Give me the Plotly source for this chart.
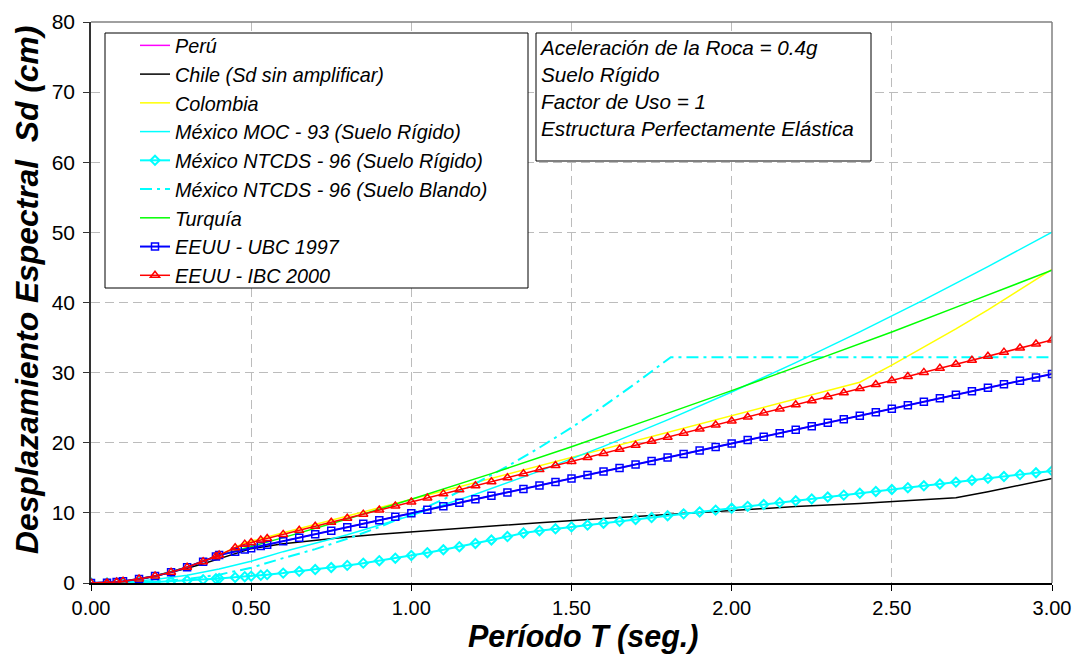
import plotly.graph_objects as go

# ---------------- data ----------------
t_grid = [0, 0.05, 0.08, 0.1, 0.15, 0.2, 0.25, 0.3, 0.35, 0.39, 0.4, 0.45, 0.48, 0.5, 0.53, 0.55,
          0.6, 0.65, 0.7, 0.75, 0.8, 0.85, 0.9, 0.95, 1.0, 1.05, 1.1, 1.15, 1.2, 1.25, 1.3, 1.35,
          1.4, 1.45, 1.5, 1.55, 1.6, 1.65, 1.7, 1.75, 1.8, 1.85, 1.9, 1.95, 2.0, 2.05, 2.1, 2.15,
          2.2, 2.25, 2.3, 2.35, 2.4, 2.45, 2.5, 2.55, 2.6, 2.65, 2.7, 2.75, 2.8, 2.85, 2.9, 2.95, 3.0]

ubc_sd = [0, 0.05, 0.16, 0.25, 0.56, 0.99, 1.55, 2.24, 3.04, 3.78, 3.98, 4.47, 4.77, 4.97, 5.27, 5.47,
          5.96, 6.46, 6.96, 7.46, 7.95, 8.45, 8.95, 9.44, 9.94, 10.44, 10.93, 11.43, 11.93, 12.43, 12.92, 13.42,
          13.92, 14.41, 14.91, 15.41, 15.90, 16.40, 16.90, 17.40, 17.89, 18.39, 18.89, 19.38, 19.88, 20.38, 20.87, 21.37,
          21.87, 22.37, 22.86, 23.36, 23.86, 24.35, 24.85, 25.35, 25.84, 26.34, 26.84, 27.34, 27.83, 28.33, 28.83, 29.32, 29.82]

ibc_sd = [0, 0.04, 0.15, 0.25, 0.56, 0.99, 1.55, 2.24, 3.04, 3.78, 3.98, 5.03, 5.54, 5.78, 6.12, 6.35,
          6.93, 7.51, 8.09, 8.66, 9.24, 9.82, 10.40, 10.97, 11.55, 12.13, 12.71, 13.28, 13.86, 14.44, 15.02, 15.59,
          16.17, 16.75, 17.33, 17.90, 18.48, 19.06, 19.64, 20.21, 20.79, 21.37, 21.95, 22.52, 23.10, 23.68, 24.26, 24.83,
          25.41, 25.99, 26.57, 27.14, 27.72, 28.30, 28.88, 29.45, 30.03, 30.61, 31.19, 31.76, 32.34, 32.92, 33.50, 34.07, 34.65]

ntcds_rig_sd = [0, 0.01, 0.02, 0.04, 0.09, 0.16, 0.25, 0.35, 0.48, 0.60, 0.63, 0.79, 0.90, 0.98, 1.10, 1.19,
                1.41, 1.66, 1.92, 2.21, 2.51, 2.83, 3.18, 3.54, 3.92, 4.32, 4.74, 5.18, 5.64, 6.13, 6.62, 7.14,
                7.46, 7.73, 8.00, 8.26, 8.53, 8.79, 9.06, 9.33, 9.59, 9.86, 10.13, 10.39, 10.66, 10.93, 11.19, 11.46,
                11.73, 11.99, 12.26, 12.53, 12.79, 13.06, 13.33, 13.59, 13.86, 14.12, 14.39, 14.66, 14.92, 15.19, 15.46, 15.72, 15.99]

peru_t = [0, 0.1, 0.2, 0.3, 0.4, 0.5, 1.0, 1.5, 2.0, 2.5, 3.0]
peru_sd = [0, 0.25, 0.99, 2.24, 3.98, 4.97, 9.94, 14.91, 19.88, 24.85, 29.82]

chile_t = [0, 0.05, 0.1, 0.15, 0.2, 0.25, 0.3, 0.35, 0.4, 0.45, 0.5, 0.6, 0.7, 0.8, 0.9, 1.0,
           1.2, 1.4, 1.6, 1.8, 2.0, 2.2, 2.4, 2.6, 2.7, 2.8, 2.9, 3.0]
chile_sd = [0, 0.04, 0.2, 0.5, 0.95, 1.5, 2.1, 2.75, 3.45, 4.2, 4.9, 5.6, 6.1, 6.55, 6.95, 7.3,
            7.95, 8.6, 9.2, 9.8, 10.35, 10.9, 11.35, 11.85, 12.15, 13.0, 13.95, 14.9]

colombia_t = [0, 0.1, 0.2, 0.3, 0.4, 0.48, 0.6, 0.8, 1.0, 1.2, 1.4, 1.6, 1.8, 2.0, 2.2, 2.4,
              2.5, 2.6, 2.7, 2.8, 2.9, 3.0]
colombia_sd = [0, 0.25, 0.99, 2.24, 3.98, 5.73, 7.16, 9.54, 11.93, 14.31, 16.70, 19.08, 21.47, 23.86, 26.24, 28.63,
               31.06, 33.60, 36.23, 38.96, 41.80, 44.73]

moc_t = [0, 0.1, 0.2, 0.3, 0.4, 0.5, 0.6, 0.8, 1.0, 1.2, 1.4, 1.6, 1.8, 2.0, 2.2, 2.4, 2.6, 2.8, 3.0]
moc_sd = [0, 0.12, 0.50, 1.12, 1.99, 3.11, 4.47, 6.89, 9.63, 12.66, 15.95, 19.49, 23.26, 27.24, 31.42, 35.81,
          40.37, 45.12, 50.04]

ntcds_bl_t = [0, 0.1, 0.2, 0.3, 0.4, 0.5, 0.6, 0.7, 0.8, 0.9, 1.0, 1.1, 1.2, 1.3, 1.4, 1.5, 1.6, 1.7, 1.81,
              2.0, 2.5, 3.0]
ntcds_bl_sd = [0, 0.04, 0.2, 0.56, 1.19, 2.17, 3.55, 4.83, 6.30, 7.98, 9.85, 11.92, 14.18, 16.65, 19.31, 22.16,
               25.22, 28.47, 32.2, 32.2, 32.2, 32.2]

turquia_t = [0, 0.05, 0.1, 0.15, 0.2, 0.3, 0.4, 0.5, 0.6, 0.8, 1.0, 1.25, 1.5, 1.75, 2.0, 2.25, 2.5, 2.75, 3.0]
turquia_sd = [0, 0.04, 0.2, 0.56, 0.99, 2.24, 3.98, 5.2, 6.47, 9.13, 11.94, 15.6, 19.43, 23.4, 27.43, 31.6,
              35.8, 40.2, 44.6]

x_ticks = [0, 0.5, 1.0, 1.5, 2.0, 2.5, 3.0]
y_ticks = [0, 10, 20, 30, 40, 50, 60, 70, 80]

info_lines = ["Aceleración de la Roca = 0.4g", "Suelo Rígido", "Factor de Uso = 1",
              "Estructura Perfectamente Elástica"]

# ---------------- figure ----------------
FONT = "Arial, 'Liberation Sans', sans-serif"
fig = go.Figure()

fig.add_trace(go.Scatter(x=peru_t, y=peru_sd, name="Perú", mode="lines",
                         line=dict(color="#ff00ff", width=1.5)))
fig.add_trace(go.Scatter(x=chile_t, y=chile_sd, name="Chile (Sd sin amplificar)", mode="lines",
                         line=dict(color="#000000", width=1.5)))
fig.add_trace(go.Scatter(x=colombia_t, y=colombia_sd, name="Colombia", mode="lines",
                         line=dict(color="#ffff00", width=1.5)))
fig.add_trace(go.Scatter(x=moc_t, y=moc_sd, name="México MOC - 93 (Suelo Rígido)", mode="lines",
                         line=dict(color="#00ffff", width=1.5)))
fig.add_trace(go.Scatter(x=t_grid, y=ntcds_rig_sd, name="México NTCDS - 96 (Suelo Rígido)", mode="lines+markers",
                         line=dict(color="#00ffff", width=2),
                         marker=dict(symbol="diamond-open", size=7, color="#00ffff", line=dict(width=2))))
fig.add_trace(go.Scatter(x=ntcds_bl_t, y=ntcds_bl_sd, name="México NTCDS - 96 (Suelo Blando)", mode="lines",
                         line=dict(color="#00ffff", width=2, dash="12px,5px,3px,5px")))
fig.add_trace(go.Scatter(x=turquia_t, y=turquia_sd, name="Turquía", mode="lines",
                         line=dict(color="#00ff00", width=1.5)))
fig.add_trace(go.Scatter(x=t_grid, y=ubc_sd, name="EEUU - UBC 1997", mode="lines+markers",
                         line=dict(color="#0000ff", width=2),
                         marker=dict(symbol="square-open", size=7, color="#0000ff", line=dict(width=1.5))))
fig.add_trace(go.Scatter(x=t_grid, y=ibc_sd, name="EEUU - IBC 2000", mode="lines+markers",
                         line=dict(color="#ff0000", width=1.5),
                         marker=dict(symbol="triangle-up-open", size=8, color="#ff0000", line=dict(width=1.5))))

W, H = 1073, 654
L, R, T, B = 91, 21, 22, 71
pw, ph = W - L - R, H - T - B


def px(x):
    return (x - L) / pw


def py(y):
    return (H - B - y) / ph


fig.update_layout(
    width=W, height=H,
    margin=dict(l=L, r=R, t=T, b=B, autoexpand=False),
    paper_bgcolor="white", plot_bgcolor="white",
    font=dict(family=FONT, color="black"),
    showlegend=True,
    legend=dict(x=px(135), y=py(26), xanchor="left", yanchor="top",
                bgcolor="rgba(0,0,0,0)", borderwidth=0,
                font=dict(size=19.8, style="italic", family=FONT),
                tracegroupgap=0),
    xaxis=dict(range=[0, 3], tickvals=x_ticks, tickformat=".2f", automargin=False,
               showgrid=True, gridcolor="#bcbcbc", griddash="9px,5px", gridwidth=1,
               showline=True, linecolor="black", linewidth=2,
               ticks="outside", ticklen=6, tickcolor="black",
               tickfont=dict(size=20, family=FONT), zeroline=False, fixedrange=True),
    yaxis=dict(range=[0, 80], tickvals=y_ticks, automargin=False,
               showgrid=True, gridcolor="#bcbcbc", griddash="9px,5px", gridwidth=1,
               showline=True, linecolor="#333333", linewidth=1.5,
               ticks="outside", ticklen=6, tickcolor="#333333",
               tickfont=dict(size=21, family=FONT), zeroline=False, fixedrange=True,
               ticklabelstandoff=4),
)

# plot frame (top / right), legend box and info box
fig.add_shape(type="line", xref="paper", yref="paper", x0=0, x1=1, y0=1, y1=1,
              line=dict(color="#808080", width=1.5), layer="above")
fig.add_shape(type="line", xref="paper", yref="paper", x0=1, x1=1, y0=0, y1=1,
              line=dict(color="#808080", width=1.5), layer="above")
fig.add_shape(type="rect", xref="paper", yref="paper", x0=px(105), x1=px(528), y0=py(288), y1=py(33),
              line=dict(color="black", width=1), fillcolor="white", layer="above")
fig.add_shape(type="rect", xref="paper", yref="paper", x0=px(536), x1=px(871), y0=py(161), y1=py(33),
              line=dict(color="black", width=1), fillcolor="white", layer="above")

fig.add_annotation(xref="paper", yref="paper", x=px(537), y=py(34), xanchor="left", yanchor="top",
                   align="left", showarrow=False, text="<br>".join(info_lines),
                   font=dict(size=20.7, style="italic", family=FONT, color="black"))

# axis titles
fig.add_annotation(xref="paper", yref="paper", x=px(583), y=py(636), xanchor="center", yanchor="middle",
                   showarrow=False, text="Período T (seg.)", borderpad=0,
                   font=dict(size=30.5, style="italic", weight="bold", family=FONT, color="black"))
fig.add_annotation(xref="paper", yref="paper", x=px(27), y=py(290), xanchor="center", yanchor="middle",
                   showarrow=False, textangle=-90, text="Desplazamiento Espectral  Sd (cm)",
                   font=dict(size=31.8, style="italic", weight="bold", family=FONT, color="black"))

fig.write_html("out.html")
